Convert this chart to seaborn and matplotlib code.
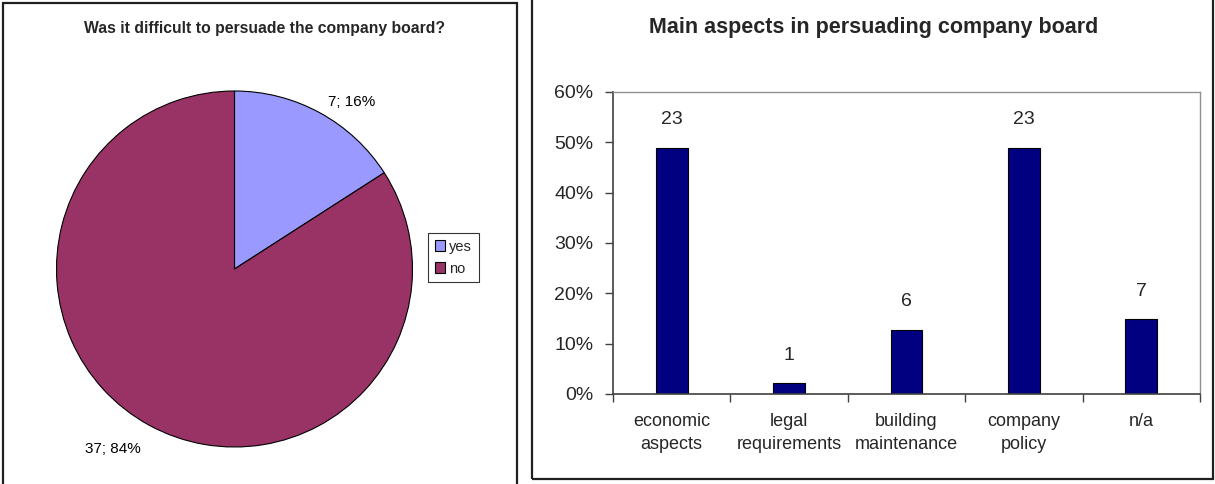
import matplotlib
matplotlib.use("Agg")
import matplotlib.pyplot as plt
from matplotlib.patches import Rectangle, Patch
from matplotlib.ticker import PercentFormatter, FixedLocator
import numpy as np
import pandas as pd
import seaborn as sns

# Survey answers: was persuading the board difficult?
pie_labels = ["yes", "no"]
pie_counts = [7, 37]
pie_colors = ["#9999FF", "#993366"]

# Main aspects used to persuade the board
aspects = ["economic\naspects", "legal\nrequirements", "building\nmaintenance",
           "company\npolicy", "n/a"]
aspect_counts = [23, 1, 6, 23, 7]
respondents = 47

sns.set_theme(style="white")
plt.rcParams["font.family"] = ["Liberation Sans", "DejaVu Sans"]

W, H = 1215, 484
fig = plt.figure(figsize=(W / 100, H / 100), dpi=100)


def fx(px):
    return px / W


def fy(py):
    return 1 - py / H


# panel frames
fig.patches.append(Rectangle((fx(3), fy(490)), fx(514), (490 - 3) / H,
                             transform=fig.transFigure, fill=False,
                             edgecolor="#202020", linewidth=1.6))
fig.patches.append(Rectangle((fx(532), fy(479)), fx(681), (479 + 5) / H,
                             transform=fig.transFigure, fill=False,
                             edgecolor="#202020", linewidth=1.6))

# ---- pie ----
r_px = 178
cx, cy = 234.5, 269
ax_pie = fig.add_axes([fx(cx - r_px), fy(cy + r_px), 2 * r_px / W, 2 * r_px / H])
wedges, _ = ax_pie.pie(pie_counts, colors=pie_colors, startangle=90,
                       counterclock=False, radius=1,
                       wedgeprops=dict(edgecolor="black", linewidth=0.8))
ax_pie.set_xlim(-1, 1)
ax_pie.set_ylim(-1, 1)
ax_pie.set_aspect("equal")
ax_pie.axis("off")

total = sum(pie_counts)
for w, n in zip(wedges, pie_counts):
    mid = np.deg2rad((w.theta1 + w.theta2) / 2)
    x = 1.1 * np.cos(mid)
    y = (1.07 if np.sin(mid) > 0 else 1.15) * np.sin(mid)
    ha = "left" if x > 0 else "right"
    ax_pie.text(x, y, f"{n}; {round(100 * n / total)}%", ha=ha, va="center",
                fontsize=11, color="black", clip_on=False)

fig.text(fx(264), fy(28), "Was it difficult to persuade the company board?",
         ha="center", va="center", fontsize=11.3, fontweight="bold")

handles = [Patch(facecolor=c, edgecolor="black", linewidth=0.8) for c in pie_colors]
fig.legend(handles, pie_labels, loc="upper left",
           bbox_to_anchor=(fx(428), fy(233)), frameon=True, fancybox=False,
           edgecolor="black", fontsize=10.5, handlelength=0.7,
           handleheight=0.7, handletextpad=0.3, borderpad=0.45,
           labelspacing=0.55, borderaxespad=0)
fig.legends[0].get_frame().set_linewidth(0.8)

# ---- bars ----
df = pd.DataFrame({"aspect": aspects, "count": aspect_counts})
df["share"] = df["count"] / respondents * 100

ax = fig.add_axes([fx(613), fy(394), fx(1200 - 613), (394 - 92) / H])
sns.barplot(data=df, x="aspect", y="share", color="#000080", width=0.27,
            edgecolor="black", linewidth=0.8, saturation=1, ax=ax)
for p, n in zip(ax.patches, df["count"]):
    ax.annotate(str(n), (p.get_x() + p.get_width() / 2, p.get_height()),
                xytext=(0, 14), textcoords="offset points",
                ha="center", va="bottom", fontsize=14)

ax.set_ylim(0, 60)
ax.set_xlim(-0.5, len(aspects) - 0.5)
ax.yaxis.set_major_locator(FixedLocator(np.arange(0, 61, 10)))
ax.yaxis.set_major_formatter(PercentFormatter(decimals=0))
ax.set_xlabel("")
ax.set_ylabel("")
ax.tick_params(axis="y", direction="out", length=6, width=1, color="#404040",
               labelsize=14, pad=8, left=True)
ax.tick_params(axis="x", which="major", length=0, labelsize=13, pad=14)
ax.set_xticks(np.arange(-0.5, len(aspects), 1), minor=True)
ax.tick_params(axis="x", which="minor", direction="out", length=6, width=1,
               color="#404040", bottom=True)
for lbl in ax.get_xticklabels():
    lbl.set_linespacing(1.45)
for side in ["left", "bottom"]:
    ax.spines[side].set_color("#404040")
    ax.spines[side].set_linewidth(1.2)
for side in ["top", "right"]:
    ax.spines[side].set_color("#909090")
    ax.spines[side].set_linewidth(1.0)
ax.grid(False)

fig.text(fx(874), fy(28), "Main aspects in persuading company board",
         ha="center", va="center", fontsize=15.5, fontweight="bold")

fig.savefig("out.png", dpi=100)
